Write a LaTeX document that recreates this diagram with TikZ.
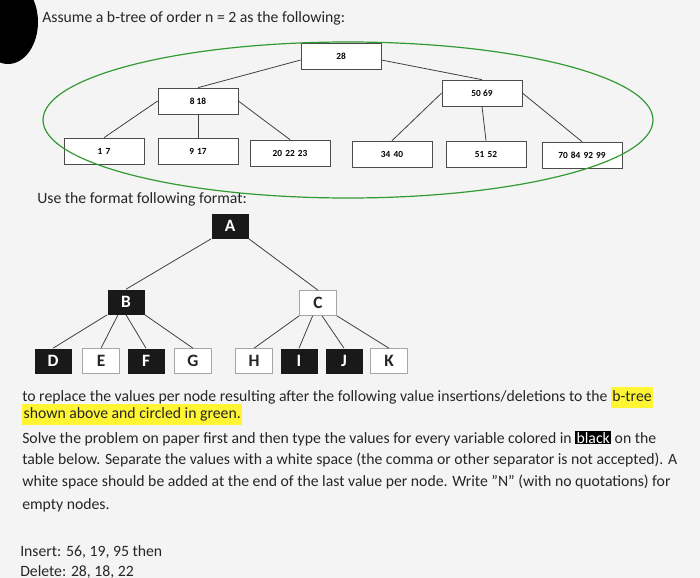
\documentclass[tikz,border=0pt]{standalone}
\usepackage{fontspec}
\setmainfont{Carlito}
\setlength{\fboxsep}{1pt}
\begin{document}
\begin{tikzpicture}[x=0.75pt,y=-0.75pt,
  tbox/.style={draw=black!70,fill=white,line width=0.5pt,minimum width=80*0.75pt,minimum height=26*0.75pt,inner sep=0pt,font=\fontsize{7}{8}\selectfont\bfseries},
  bk/.style={fill=black!90,text=white,minimum width=37*0.75pt,minimum height=25*0.75pt,inner sep=0pt,font=\fontsize{13}{15}\selectfont\bfseries},
  wh/.style={draw=black!35,fill=white,text=black!85,minimum width=37*0.75pt,minimum height=25*0.75pt,inner sep=0pt,font=\fontsize{13}{15}\selectfont\bfseries},
  txt/.style={anchor=base west,inner sep=0pt,font=\fontsize{11.8}{14}\selectfont,text=black!85},
  ln/.style={draw=black!75,line width=0.6pt}]
\useasboundingbox (0,0) rectangle (700,578);
\clip (0,0) rectangle (700,578);
\fill[gray!9] (0,0) rectangle (700,578);
\fill[black] (8,22) ellipse [x radius=30, y radius=42];
\node[txt] (t0) at (42,22) {Assume a b-tree of order n = 2 as the following:};
% top tree
\node[tbox] (r) at (341,56) {28};
\node[tbox] (l1) at (198,101) {8 18};
\node[tbox] (r1) at (482,93) {50 69};
\node[tbox] (a) at (104,151) {1\,\,7};
\node[tbox] (b) at (198,151) {9\,\,17};
\node[tbox] (c) at (290,153) {20\,\,22\,\,23};
\node[tbox] (d) at (392,154) {34\,\,40};
\node[tbox] (e) at (486,154) {51\,\,52};
\node[tbox] (f) at (582,155) {70\,\,84\,\,92\,\,99};
\draw[ln] ([yshift=-3pt]r.west) -- (l1.north);
\draw[ln] ([yshift=-3pt]r.east) -- (r1.north);
\draw[ln] (l1.west) -- (a.north);
\draw[ln] (l1.south) -- (b.north);
\draw[ln] (l1.east) -- (c.north);
\draw[ln] (r1.west) -- (d.north);
\draw[ln] (r1.south) -- (e.north);
\draw[ln] (r1.east) -- (f.north);
\draw[green!50!black!80,line width=0.9pt] (348,120) ellipse [x radius=305, y radius=78];
% format tree
\node[txt] (t1) at (37,203) {Use the format following format:};
\node[bk] (A) at (230,226) {A};
\node[bk] (B) at (126,302) {B};
\node[wh] (C) at (318,303) {C};
\node[bk] (D) at (53,361) {D};
\node[wh] (E) at (101,361) {E};
\node[bk] (F) at (146,361) {F};
\node[wh] (G) at (193,361) {G};
\node[wh] (H) at (254,361) {H};
\node[bk] (I) at (299,361) {I};
\node[bk] (J) at (344,361) {J};
\node[wh] (K) at (389,361) {K};
\draw[ln] (A.south west) -- (B.north);
\draw[ln] (A.south east) -- (C.north);
\draw[ln] (B.south west) -- (D.north);
\draw[ln] ([xshift=-6pt]B.south) -- (E.north);
\draw[ln] ([xshift=0pt]B.south) -- (F.north);
\draw[ln] (B.south east) -- (G.north);
\draw[ln] (C.south west) -- (H.north);
\draw[ln] ([xshift=-4pt]C.south) -- (I.north);
\draw[ln] ([xshift=3pt]C.south) -- (J.north);
\draw[ln] (C.south east) -- (K.north);
% text
\node[txt] (p1) at (22,401) {to replace the values per node resulting after the following value insertions/deletions to the \colorbox{yellow!80}{\strut b-tree}};
\node[txt] (p2) at (22,418) {\colorbox{yellow!80}{\strut shown above and circled in green.}};
\node[txt] (p3) at (22,443) {Solve the problem on paper first and then type the values for every variable colored in \colorbox{black}{\textcolor{white}{black}} on the};
\node[txt] (p4) at (22,464) {table below. Separate the values with a white space (the comma or other separator is not accepted). A};
\node[txt] (p5) at (22,486) {white space should be added at the end of the last value per node. Write "N" (with no quotations) for};
\node[txt] (p6) at (22,509) {empty nodes.};
\node[txt] (p7) at (20,556) {Insert: 56, 19, 95 then};
\node[txt] (p8) at (20,576) {Delete: 28, 18, 22};
\end{tikzpicture}
\end{document}
